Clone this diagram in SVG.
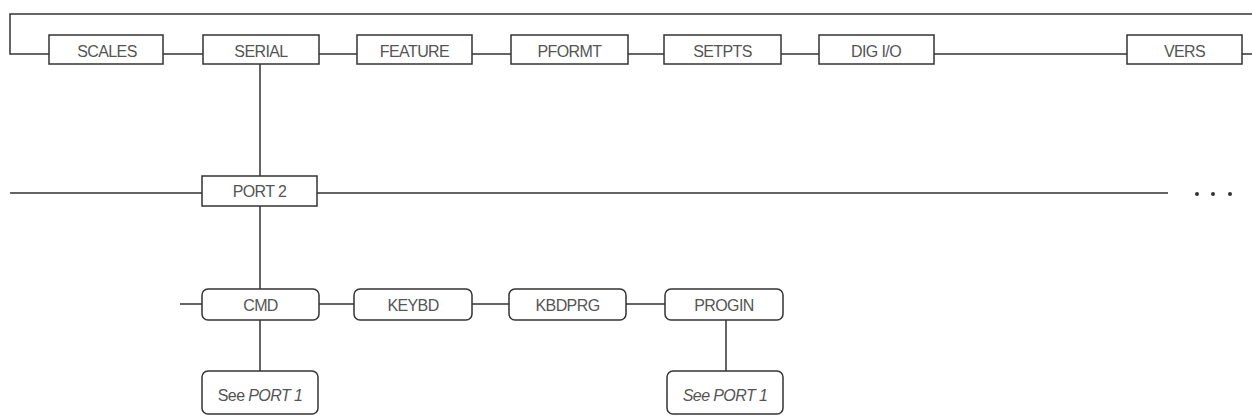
<svg xmlns="http://www.w3.org/2000/svg" width="1252" height="419" viewBox="0 0 1252 419">
<style>
.b{fill:#fff;stroke:#333;stroke-width:1.5}
.c{fill:none;stroke:#333;stroke-width:1.5}
text{font-family:"Liberation Sans",Arial,sans-serif;font-size:16px;fill:#555;text-anchor:middle;letter-spacing:-0.6px}
.i{font-style:italic}
.s{font-size:16px}
</style>
<rect width="1252" height="419" fill="#fff"/>
<g id="connectors">
<path class="c" d="M1252,14 H10 V54 H49"/>
<path class="c" d="M163,54 H203 M319,54 H357 M472,54 H511 M628,54 H664 M781,54 H819 M934,54 H1127 M1242,54 H1252"/>
<path class="c" d="M260,64 V176 M10,193 H202 M317,193 H1168 M260,206 V289"/>
<path class="c" d="M180,304 H202 M319,304 H354 M472,304 H509 M626,304 H665"/>
<path class="c" d="M260,320 V371 M726,320 V371"/>
<circle cx="1197" cy="194" r="2" fill="#333"/>
<circle cx="1213" cy="194" r="2" fill="#333"/>
<circle cx="1230" cy="194" r="2" fill="#333"/>
</g>
<g id="scales"><rect class="b" x="49" y="35" width="114" height="29"/><text x="107" y="57">SCALES</text></g>
<g id="serial"><rect class="b" x="203" y="35" width="116" height="29"/><text x="261" y="57">SERIAL</text></g>
<g id="feature"><rect class="b" x="357" y="35" width="115" height="29"/><text x="414.5" y="57">FEATURE</text></g>
<g id="pformt"><rect class="b" x="511" y="35" width="117" height="29"/><text x="569.5" y="57">PFORMT</text></g>
<g id="setpts"><rect class="b" x="664" y="35" width="117" height="29"/><text x="722.5" y="57">SETPTS</text></g>
<g id="digio"><rect class="b" x="819" y="35" width="115" height="29"/><text x="876" y="57">DIG I/O</text></g>
<g id="vers"><rect class="b" x="1127" y="35" width="115" height="29"/><text x="1184.5" y="57">VERS</text></g>
<g id="port2"><rect class="b" x="202" y="176" width="115" height="30"/><text x="259.5" y="197">PORT 2</text></g>
<g id="cmd"><rect class="b" x="202" y="289" width="117" height="31" rx="6"/><text x="260.5" y="311">CMD</text></g>
<g id="keybd"><rect class="b" x="354" y="289" width="118" height="31" rx="6"/><text x="413" y="311">KEYBD</text></g>
<g id="kbdprg"><rect class="b" x="509" y="289" width="117" height="31" rx="6"/><text x="567.5" y="311">KBDPRG</text></g>
<g id="progin"><rect class="b" x="665" y="289" width="118" height="31" rx="6"/><text x="724" y="311">PROGIN</text></g>
<g id="see1"><rect class="b" x="202" y="371" width="116" height="43" rx="6"/><text x="260" y="401" class="s">See <tspan class="i">PORT 1</tspan></text></g>
<g id="see2"><rect class="b" x="667" y="371" width="116" height="43" rx="6"/><text x="725" y="401" class="s i">See PORT 1</text></g>
</svg>
